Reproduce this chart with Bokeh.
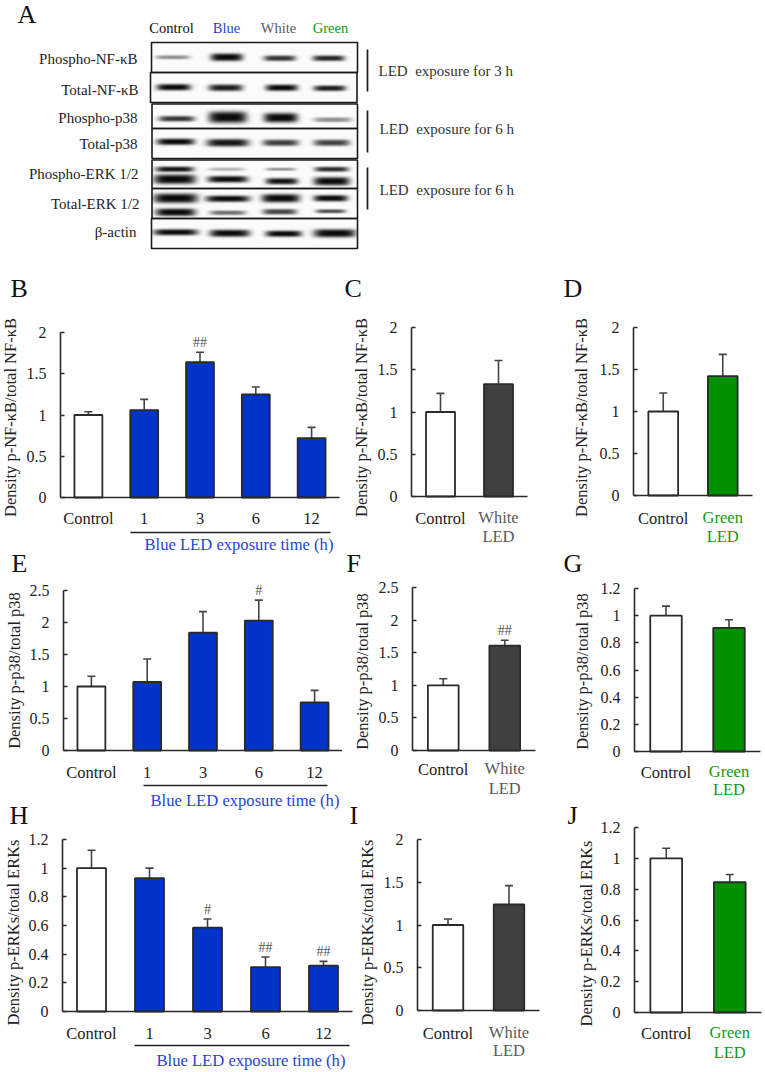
import math
import numpy as np
from bokeh.embed import file_html
from bokeh.layouts import column, row
from bokeh.models import (FixedTicker, Label, LinearAxis, Range1d,
                          TeeHead, Whisker, ColumnDataSource)
from bokeh.plotting import figure
from bokeh.resources import INLINE

# ---------- data ----------
time_cats = ["Control", "1", "3", "6", "12"]

b_values = [1.0, 1.06, 1.64, 1.25, 0.72]
b_tops = [1.04, 1.19, 1.76, 1.34, 0.85]
c_values = [1.0, 1.33]
c_tops = [1.22, 1.61]
d_values = [1.0, 1.42]
d_tops = [1.22, 1.68]
e_values = [1.0, 1.07, 1.84, 2.03, 0.75]
e_tops = [1.16, 1.43, 2.17, 2.35, 0.94]
f_values = [1.0, 1.61]
f_tops = [1.10, 1.69]
g_values = [1.0, 0.91]
g_tops = [1.07, 0.97]
h_values = [1.0, 0.93, 0.585, 0.31, 0.32]
h_tops = [1.125, 1.0, 0.645, 0.38, 0.35]
i_values = [1.0, 1.24]
i_tops = [1.07, 1.46]
j_values = [1.0, 0.845]
j_tops = [1.065, 0.895]

ticks_2 = [0, 0.5, 1, 1.5, 2]
ticks_25 = [0, 0.5, 1, 1.5, 2, 2.5]
ticks_12 = [0, 0.2, 0.4, 0.6, 0.8, 1, 1.2]

blot_rows = ["Phospho-NF-κB", "Total-NF-κB", "Phospho-p38", "Total-p38",
             "Phospho-ERK 1/2", "Total-ERK 1/2", "β-actin"]
blot_cols = ["Control", "Blue", "White", "Green"]

# blot bands: lane centre, half width, row centre, half thickness, darkness
bands = [
    (172, 17, 57, 2.0, .45), (226, 16, 57, 3.8, 1.0), (279, 16, 58, 2.8, .82), (328, 16, 58, 2.8, .88),
    (173, 17, 87, 3.2, 1.0), (225, 17, 87.5, 3.3, .92), (281, 16, 87.5, 3.2, 1.0), (329, 16, 88, 2.8, .92),
    (176, 18, 118.5, 2.8, .82), (227, 19, 117, 5.8, 1.0), (280, 17, 117.5, 4.8, 1.0), (332, 19, 119.5, 2.4, .45),
    (175, 19, 141.5, 3.2, 1.0), (227, 21, 142.5, 3.8, .95), (280, 18, 142.5, 3.2, .78), (331, 18, 142.5, 3.2, .76),
    (174, 19, 169, 2.7, .95), (226, 18, 169, 1.7, .30), (280, 15, 169, 1.5, .45), (331, 17, 169, 2.5, .86),
    (174, 21, 179, 4.8, 1.0), (227, 20, 179, 3.3, 1.0), (281, 16, 181, 3.2, .95), (331, 18, 181, 4.2, 1.0),
    (175, 22, 198, 4.8, 1.0), (227, 22, 198.5, 3.2, 1.0), (280, 19, 198, 4.2, 1.0), (330, 17, 198, 3.2, 1.0),
    (175, 20, 212, 3.8, 1.0), (227, 18, 212.5, 2.3, .58), (279, 17, 211.5, 2.8, .76), (330, 15, 211, 2.0, .72),
    (175, 22, 232, 3.1, 1.0), (229, 20, 233, 3.6, 1.0), (283, 18, 233.5, 3.1, 1.0), (334, 21, 233, 4.1, 1.0),
]

FONT = "Liberation Serif"
BLUE = "#0033c8"
GREY = "#404040"
GREEN = "#009000"
INK = "#2a2a2a"
BLUE_TXT = "#1f45d6"
GREY_TXT = "#5a5a5a"
GREEN_TXT = "#0f9a0f"


def txt(p, origin, X, Y, s, size, color="#222222", align="left", angle=0.0, x_data=None):
    kw = dict(x_units="canvas", x=X - origin[0]) if x_data is None else dict(x_units="data", x=x_data)
    p.add_layout(Label(y=Y - origin[1], y_units="canvas", text=s, text_font=FONT,
                       text_font_size=f"{size}px", text_color=color, text_align=align,
                       text_baseline="middle", angle=angle, **kw))


def panel(box, frame, letters, values, tops, cats, fill, ymax, ticks, ylabel, ylabel_xy,
          label_y, second=None, marks=(), under=None, margin=(0, 0, 0, 0)):
    ox, oy, fx, fy = box
    L, T, R, B = frame
    n = len(values)
    ux = n / (R - L)          # data units per pixel, x
    uy = ymax / (B - T)       # data units per pixel, y
    p = figure(width=fx - ox, height=fy - oy, output_backend="svg", toolbar_location=None,
               x_range=Range1d(-0.5 - (L - ox) * ux, n - 0.5 + (fx - R) * ux),
               y_range=Range1d(-(fy - B) * uy, ymax + (T - oy) * uy),
               min_border=0, x_axis_type=None, y_axis_type=None, margin=margin)
    p.outline_line_color = None
    p.background_fill_color = "white"
    origin = (ox, oy)
    idx = list(range(n))
    src = ColumnDataSource(dict(x=idx, top=values, up=tops, fill=fill))
    p.vbar(x="x", width=0.5, bottom=0, top="top", source=src, fill_color="fill",
           line_color=INK, line_width=1.8)
    p.add_layout(Whisker(source=src, base="x", upper="up", lower="top", dimension="height",
                         line_color="#444444", line_width=1.6, lower_head=None,
                         upper_head=TeeHead(size=8, line_color="#444444", line_width=1.6)))
    yax = LinearAxis(ticker=FixedTicker(ticks=ticks), major_tick_in=4, major_tick_out=0,
                     fixed_location=-0.5, bounds=(0, ymax),
                     major_tick_line_color=INK, major_tick_line_width=1.5,
                     minor_tick_line_color=None, axis_line_color=INK, axis_line_width=1.6,
                     major_label_text_font=FONT, major_label_text_font_size="16px",
                     major_label_text_color="#222222", major_label_standoff=14,
                     major_label_overrides={t: (str(int(t)) if t == int(t) else str(t)) for t in ticks})
    p.add_layout(yax, "left")
    overrides = {k: c for k, c in enumerate(cats)}
    if second:
        overrides[1] = " "
    xax = LinearAxis(ticker=FixedTicker(ticks=idx), major_tick_in=0, major_tick_out=0,
                     fixed_location=0, bounds=(-0.5, n - 0.5),
                     minor_tick_line_color=None, axis_line_color=INK, axis_line_width=1.6,
                     major_label_text_font=FONT, major_label_text_font_size="16.5px",
                     major_label_text_color="#222222", major_label_standoff=label_y - B - 9,
                     major_label_overrides=overrides)
    p.add_layout(xax, "below")
    if second:
        word, color, led_y = second
        txt(p, origin, 0, label_y, word, 16.5, color, "center", x_data=1)
        txt(p, origin, 0, led_y, "LED", 16.5, color, "center", x_data=1)
    for s, X, Y in letters:
        txt(p, origin, X, Y, s, 26, "#111111")
    txt(p, origin, ylabel_xy[0], ylabel_xy[1], ylabel, 16.5, "#222222", "center", math.pi / 2)
    for k, m in marks:
        p.add_layout(Label(x=k, y=tops[k], y_offset=10, text=m, text_font=FONT, text_font_size="14px",
                           text_color="#555555", text_align="center", text_baseline="middle"))
    if under:
        x1, x2, ly, tx, ty = under
        sx = lambda X: -0.5 + (X - L) * ux
        sy = lambda Y: (B - Y) * uy
        p.segment(x0=[sx(x1)], x1=[sx(x2)], y0=[sy(ly)], y1=[sy(ly)], line_color="#222222", line_width=1.3)
        txt(p, origin, tx, ty, "Blue LED exposure time (h)", 16.6, BLUE_TXT)
    return p


# ---------- panel A ----------
a = figure(width=765, height=270, output_backend="svg", toolbar_location=None,
           x_range=Range1d(0, 765), y_range=Range1d(0, 270), min_border=0,
           x_axis_type=None, y_axis_type=None)
a.outline_line_color = None
a.grid.visible = False
org = (0, 0)

bx0, bx1, by0, by1 = 151, 357, 42, 248
S = 2
xs = bx0 + (np.arange((bx1 - bx0) * S) + 0.5) / S
ys = by0 + (np.arange((by1 - by0) * S) + 0.5) / S
XX, YY = np.meshgrid(xs, ys)
dark = np.zeros_like(XX)
for cx, hw, cy, th, d in bands:
    prof = d * np.exp(-np.abs((XX - cx) / hw) ** 5) * np.exp(-np.abs((YY - cy) / th) ** 3)
    dark = np.maximum(dark, prof)
gray = (252 - 244 * dark).astype(np.uint32)
img = (255 << 24) | (gray << 16) | (gray << 8) | gray
a.image_rgba(image=[img[::-1].astype(np.uint32)], x=bx0, y=270 - by1, dw=bx1 - bx0, dh=by1 - by0)

row_edges = [(151, 357, 42, 72), (150, 356.5, 72, 102), (151.5, 357, 103.5, 128), (151.5, 357, 128, 158),
             (151.5, 357, 159.5, 188), (151.5, 357, 188, 218), (151, 357, 218, 248)]
a.quad(left=[r[0] for r in row_edges], right=[r[1] for r in row_edges],
       top=[270 - r[2] for r in row_edges], bottom=[270 - r[3] for r in row_edges],
       fill_alpha=0, line_color="#1a1a1a", line_width=1.6)
a.segment(x0=[367, 367, 367], x1=[367, 367, 367], y0=[270 - 49, 270 - 110, 270 - 167],
          y1=[270 - 91, 270 - 152, 270 - 209], line_color="#1a1a1a", line_width=1.7)

txt(a, org, 17, 14, "A", 26, "#111111")
for s, x, c in zip(blot_cols, [171, 226, 278, 330], ["#111111", BLUE_TXT, GREY_TXT, GREEN_TXT]):
    txt(a, org, x, 27, s, 14.5, c, "center")
for s, x, y in zip(blot_rows, [137, 138, 137, 137, 138, 139, 136], [58, 89, 117, 143, 173, 203, 231]):
    txt(a, org, x, y, s, 15, "#222222", "right")
for s, x, y in [("LED\u00a0 exposure for 3 h", 378, 70), ("LED\u00a0 exposure for 6 h", 379, 128), ("LED\u00a0 exposure for 6 h", 379, 189)]:
    txt(a, org, x, y, s, 15, "#333333")

# ---------- bar panels ----------
blues = ["white", BLUE, BLUE, BLUE, BLUE]
Y_NF = "Density p-NF-κB/total NF-κB"
Y_P38 = "Density p-p38/total p38"
Y_ERK = "Density p-ERKs/total ERKs"

pb = panel((0, 270, 342, 580), (60, 332, 339, 497), [("B", 10, 288), ("E", 11, 563)], b_values, b_tops, time_cats, blues, 2, ticks_2,
           Y_NF, (10, 417), 517, marks=[(2, "##")], under=(130, 330, 532, 144, 544))
pe = panel((0, 580, 342, 830), (63, 590, 342, 750), [("H", 9, 815)], e_values, e_tops, time_cats, blues, 2.5, ticks_25,
           Y_P38, (14, 670), 771, marks=[(3, "#")], under=(143, 327, 785, 150, 800))
ph = panel((0, 830, 358, 1072), (62, 839, 352, 1011), [], h_values, h_tops, time_cats, blues, 1.2, ticks_12,
           Y_ERK, (13, 932), 1032, marks=[(2, "#"), (3, "##"), (4, "##")], under=(134, 349, 1045, 156, 1060))

pc = panel((342, 270, 560, 547), (411, 327, 527, 496), [("C", 344, 288)], c_values, c_tops, ["Control", "White"],
           ["white", GREY], 2, ticks_2, Y_NF, (361, 417), 517, second=("White", GREY_TXT, 536))
pf = panel((342, 547, 560, 830), (412, 587, 535, 750), [("F", 346, 563), ("I", 349, 815)], f_values, f_tops, ["Control", "White"],
           ["white", GREY], 2.5, ticks_25, Y_P38, (362, 671), 768, second=("White", GREY_TXT, 788), marks=[(1, "##")])
pi_ = panel((358, 830, 560, 1072), (417, 839, 539, 1010), [], i_values, i_tops, ["Control", "White"],
            ["white", GREY], 2, ticks_2, Y_ERK, (367, 932), 1032, second=("White", GREY_TXT, 1050),
            margin=(0, 0, 0, 16))

pd_ = panel((560, 270, 765, 548), (633, 327, 752, 495), [("D", 563, 288)], d_values, d_tops, ["Control", "Green"],
            ["white", GREEN], 2, ticks_2, Y_NF, (581, 417), 517, second=("Green", GREEN_TXT, 536))
pg = panel((560, 548, 765, 800), (634, 588, 760, 751), [("G", 563, 563)], g_values, g_tops, ["Control", "Green"],
           ["white", GREEN], 1.2, ticks_12, Y_P38, (582, 671), 771, second=("Green", GREEN_TXT, 789))
pj = panel((560, 800, 765, 1072), (634, 827, 761, 1012), [("J", 567, 815)], j_values, j_tops, ["Control", "Green"],
           ["white", GREEN], 1.2, ticks_12, Y_ERK, (586, 933), 1032, second=("Green", GREEN_TXT, 1052))

page = column(a, row(column(pb, pe, ph, spacing=0),
                     column(pc, pf, pi_, spacing=0, margin=(0, 0, 0, -16)),
                     column(pd_, pg, pj, spacing=0), spacing=0),
              spacing=0, margin=(0, 0, 0, 0))

open("out.html", "w").write(file_html(page, INLINE))
